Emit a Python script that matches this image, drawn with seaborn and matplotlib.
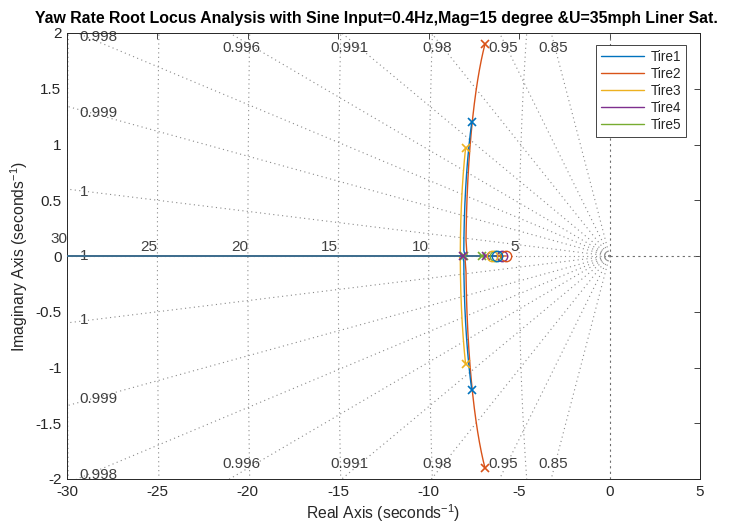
import numpy as np
import matplotlib
matplotlib.use('Agg')
import matplotlib.pyplot as plt
import seaborn as sns
from matplotlib.lines import Line2D

# ---------------- data ----------------
tire_names = ['Tire1', 'Tire2', 'Tire3', 'Tire4', 'Tire5']
tire_colors = ['#0072BD', '#D95319', '#EDB120', '#7E2F8E', '#77AC30']
tire_poles = [
    [-7.62 + 1.20j, -7.62 - 1.20j],
    [-6.89 + 1.90j, -6.89 - 1.90j],
    [-7.96 + 0.97j, -7.96 - 0.97j],
    [-8.10 + 0j, -6.85 + 0j],
    [-8.05 + 0j, -7.05 + 0j],
]
tire_zeros = [-6.20, -5.70, -6.50, -5.97, -6.35]

zeta_values = [1.0, 0.9998, 0.999, 0.9977, 0.9955, 0.991, 0.98, 0.95, 0.85]
zeta_labels = ['1', '1', '0.999', '0.998', '0.996', '0.991', '0.98', '0.95', '0.85']
wn_values = [5, 10, 15, 20, 25, 30]
wn_labels = ['5', '10', '15', '20', '25', '30']

x_ticks = [-30, -25, -20, -15, -10, -5, 0, 5]
y_ticks = [-2, -1.5, -1, -0.5, 0, 0.5, 1, 1.5, 2]

title_text = 'Yaw Rate Root Locus Analysis with Sine Input=0.4Hz,Mag=15 degree &U=35mph Liner Sat.'
xlabel_text = 'Real Axis (seconds$^{-1}$)'
ylabel_text = 'Imaginary Axis (seconds$^{-1}$)'

# ---------------- style ----------------
sns.set_theme(style='white')
plt.rcParams['font.family'] = ['Liberation Sans', 'DejaVu Sans']
plt.rcParams['mathtext.default'] = 'regular'
plt.rcParams['axes.unicode_minus'] = False

fig = plt.figure(figsize=(7.29, 5.27), dpi=100)
ax = fig.add_axes([67 / 729, 48 / 527, 633 / 729, 446 / 527])

xmin, xmax, ymin, ymax = -30, 5, -2, 2

# ---------------- s-plane grid ----------------
grid_kw = dict(color='#8a8a8a', lw=0.8, ls=(0, (1, 3)), zorder=1)
R = 80.0
for z in zeta_values:
    th = np.arccos(z)
    xe, ye = -R * np.cos(th), R * np.sin(th)
    ax.plot([0, xe], [0, ye], **grid_kw)
    if ye > 0:
        ax.plot([0, xe], [0, -ye], **grid_kw)
phi = np.linspace(np.pi / 2, 3 * np.pi / 2, 600)
for wn in wn_values:
    ax.plot(wn * np.cos(phi), wn * np.sin(phi), **grid_kw)
axis_kw = dict(color='#6e6e6e', lw=0.8, ls=(0, (2, 3)), zorder=1)
ax.axvline(0, **axis_kw)
ax.plot([0, xmax + 1], [0, 0], **axis_kw)

lab_kw = dict(color='#404040', fontsize=11, zorder=2)
for z, lab in zip(zeta_values, zeta_labels):
    th = np.arccos(z)
    t = np.tan(th)
    if t == 0:
        ax.text(-29.3, 0, lab, ha='left', va='center', **lab_kw)
        continue
    x_top = -1.94 / t
    if 28.6 * t < 1.7:
        y = 28.6 * t
        for s in (1, -1):
            ax.text(-29.3, s * y, lab, ha='left', va='center', **lab_kw)
    elif x_top < -27:
        for s in (1, -1):
            ax.text(-29.3, s * 1.96, lab, ha='left', va='center', **lab_kw)
    else:
        for s in (1, -1):
            ax.text(x_top, s * 1.865, lab, ha='center', va='center', **lab_kw)
for wn, lab in zip(wn_values, wn_labels):
    yl = 0.15 if wn == max(wn_values) else 0.085
    ax.text(-wn, yl, lab, ha='right', va='center', clip_on=False, **lab_kw)

# ---------------- root loci ----------------
gains = np.concatenate([[0.0], np.logspace(-4, 5, 4000)])
handles = []
for i, (name, col, poles, zero) in enumerate(zip(tire_names, tire_colors, tire_poles, tire_zeros)):
    den = np.real(np.poly(poles))
    num = np.array([0.0, 1.0, -zero])
    up, lo = [], []
    for k in gains:
        r = np.roots(den + k * num)
        if np.all(np.abs(r.imag) < 1e-9):
            rr = np.sort(r.real)
            lo.append(complex(rr[0], 0))
            up.append(complex(rr[1], 0))
        else:
            up.append(r[np.argmax(r.imag)])
            lo.append(r[np.argmin(r.imag)])
    up = np.array(up)
    lo = np.array(lo)
    zo = 10 - i
    for br in (up, lo):
        sns.lineplot(x=br.real, y=br.imag, sort=False, estimator=None,
                     color=col, lw=1.0, ax=ax, zorder=zo)
    p = np.array(poles)
    ax.plot(p.real, p.imag, 'x', color=col, ms=6, mew=1.2, zorder=zo + 10)
    ax.plot([zero], [0], 'o', mfc='none', mec=col, ms=7.5, mew=1.0, zorder=zo + 10)
    handles.append(Line2D([0], [0], color=col, lw=1.0, label=name))

# ---------------- axes cosmetics ----------------
ax.set_xlim(xmin, xmax)
ax.set_ylim(ymin, ymax)
ax.set_xticks(x_ticks)
ax.set_yticks(y_ticks)
ax.set_xticklabels(['{:g}'.format(v) for v in x_ticks])
ax.set_yticklabels(['{:g}'.format(v) for v in y_ticks])
ax.tick_params(direction='in', top=True, right=True, length=4, width=0.6,
               colors='#262626', labelsize=11, pad=4)
for sp in ax.spines.values():
    sp.set_color('#262626')
    sp.set_linewidth(0.7)
ax.grid(False)

ax.set_title(title_text, fontsize=11.4, fontweight='bold', color='black', pad=7,
             x=(376 - 67) / 633)
ax.set_xlabel(xlabel_text, fontsize=11.3, color='#262626', labelpad=3)
ax.set_ylabel(ylabel_text, fontsize=11.3, color='#262626', labelpad=4)

leg = ax.legend(handles=handles, loc='upper right',
                bbox_to_anchor=(1 - 14 / 633, 1 - 12 / 446), borderaxespad=0,
                fontsize=9.8, handlelength=3.2, labelspacing=0.22, handletextpad=0.45,
                borderpad=0.35, fancybox=False, framealpha=1, edgecolor='#262626')
leg.get_frame().set_linewidth(0.6)
leg.set_zorder(50)

fig.savefig('out.png', dpi=100)
